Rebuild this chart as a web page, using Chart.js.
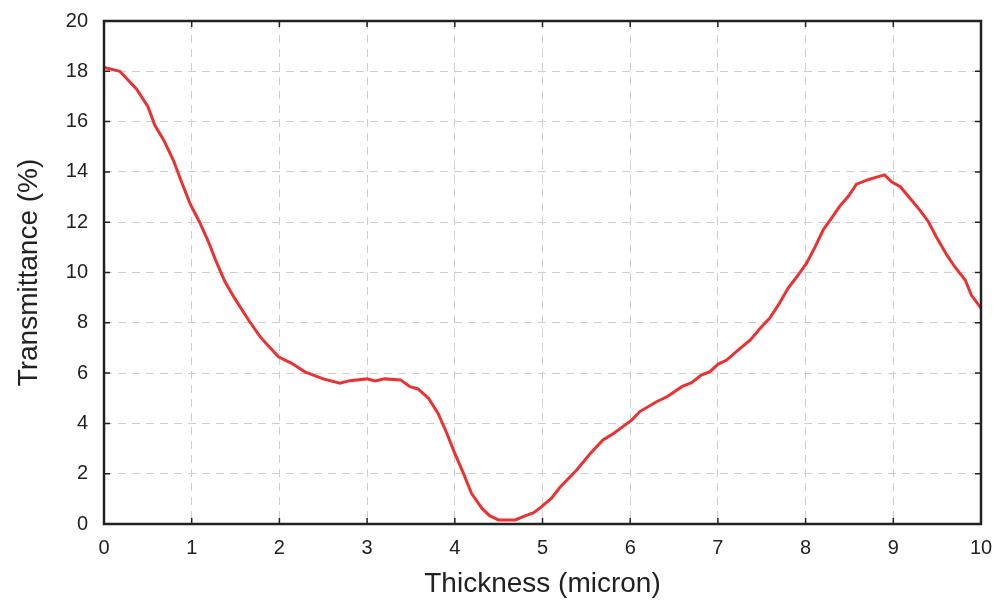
<!DOCTYPE html>
<html>
<head>
<meta charset="utf-8">
<script src="https://cdn.jsdelivr.net/npm/chart.js@4/dist/chart.umd.min.js"></script>
<style>
  html, body { margin: 0; padding: 0; background: #fff; }
  #wrap { width: 1000px; height: 601px; }
</style>
</head>
<body>
<div id="wrap"><canvas id="graphCanvas"></canvas></div>
<script>
// 読み取った値（膜厚 vs 透過率）
const thickness = [
  0, 0.18, 0.37, 0.5, 0.58, 0.68, 0.79, 0.89, 0.98, 1.09, 1.19, 1.28, 1.38, 1.49,
  1.65, 1.78, 1.87, 1.99, 2.14, 2.29, 2.5, 2.69, 2.8, 3.0, 3.09, 3.2, 3.38, 3.49,
  3.58, 3.7, 3.81, 3.91, 4.0, 4.1, 4.19, 4.31, 4.4, 4.5, 4.69, 4.78, 4.9, 4.99,
  5.1, 5.2, 5.39, 5.54, 5.69, 5.81, 6.02, 6.11, 6.3, 6.42, 6.59, 6.7, 6.81, 6.91,
  7.0, 7.1, 7.21, 7.37, 7.5, 7.59, 7.69, 7.8, 7.9, 8.01, 8.11, 8.2, 8.3, 8.39,
  8.49, 8.58, 8.73, 8.83, 8.9, 8.98, 9.08, 9.19, 9.3, 9.4, 9.49, 9.61, 9.7, 9.82,
  9.89, 10.0
];
const transmittance = [
  18.15, 18.0, 17.3, 16.6, 15.85, 15.27, 14.47, 13.55, 12.75, 12.0, 11.23, 10.43, 9.63, 8.97,
  8.1, 7.45, 7.1, 6.65, 6.39, 6.05, 5.77, 5.6, 5.7, 5.77, 5.69, 5.77, 5.73, 5.46,
  5.37, 5.0, 4.4, 3.6, 2.81, 2.0, 1.22, 0.62, 0.32, 0.16, 0.16, 0.29, 0.45, 0.69,
  1.02, 1.46, 2.15, 2.78, 3.34, 3.6, 4.14, 4.47, 4.86, 5.06, 5.46, 5.62, 5.92, 6.06,
  6.35, 6.52, 6.85, 7.32, 7.85, 8.18, 8.71, 9.37, 9.83, 10.36, 11.03, 11.69, 12.18, 12.64,
  13.04, 13.51, 13.71, 13.81, 13.88, 13.61, 13.41, 12.95, 12.49, 12.02, 11.42, 10.7, 10.23, 9.7,
  9.1, 8.58
];
const xTicks = [0, 1, 2, 3, 4, 5, 6, 7, 8, 9, 10];
const yTicks = [0, 2, 4, 6, 8, 10, 12, 14, 16, 18, 20];

const points = thickness.map((t, i) => ({ x: t, y: transmittance[i] }));

const FONT = "'Liberation Sans', Arial, sans-serif";

// 内向きの目盛りと枠線を描くプラグイン
const frameTicks = {
  id: "frameTicks",
  afterDatasetsDraw(chart) {
    const { ctx, chartArea: a, scales } = chart;
    const len = 6;
    ctx.save();
    ctx.strokeStyle = "#222";
    ctx.lineWidth = 1.5;
    ctx.beginPath();
    xTicks.forEach((v) => {
      const px = scales.x.getPixelForValue(v);
      ctx.moveTo(px, a.bottom); ctx.lineTo(px, a.bottom - len);
      ctx.moveTo(px, a.top); ctx.lineTo(px, a.top + len);
    });
    yTicks.forEach((v) => {
      const py = scales.y.getPixelForValue(v);
      ctx.moveTo(a.left, py); ctx.lineTo(a.left + len, py);
      ctx.moveTo(a.right, py); ctx.lineTo(a.right - len, py);
    });
    ctx.stroke();
    ctx.lineWidth = 2.5;
    ctx.strokeRect(a.left, a.top, a.right - a.left, a.bottom - a.top);
    ctx.restore();
  },
};

new Chart(document.getElementById("graphCanvas").getContext("2d"), {
  type: "scatter",
  data: {
    datasets: [
      {
        data: points,
        showLine: true,
        pointRadius: 0,
        borderColor: "rgb(235, 50, 50)",
        borderWidth: 3,
        tension: 0,
      },
    ],
  },
  options: {
    responsive: true,
    maintainAspectRatio: false,
    animation: false,
    layout: { padding: { left: 12, right: 19, top: 21, bottom: 0 } },
    plugins: { legend: { display: false }, tooltip: { enabled: false } },
    scales: {
      x: {
        type: "linear",
        min: 0,
        max: 10,
        afterFit: (s) => { s.height = 77; s.paddingLeft = 0; s.paddingRight = 0; },
        afterBuildTicks: (s) => { s.ticks = xTicks.map((v) => ({ value: v })); },
        border: { display: false, dash: [8, 6] },
        grid: { color: "#cfcfcf", lineWidth: 1, drawTicks: false },
        ticks: { color: "#222", font: { family: FONT, size: 20 }, padding: 12, maxRotation: 0 },
        title: {
          display: true,
          text: "Thickness (micron)",
          color: "#222",
          font: { family: FONT, size: 28 },
          padding: { top: 0, bottom: 0 },
        },
      },
      y: {
        min: 0,
        max: 20,
        afterFit: (s) => { s.width = 92; s.paddingTop = 0; s.paddingBottom = 0; },
        afterBuildTicks: (s) => { s.ticks = yTicks.map((v) => ({ value: v })); },
        border: { display: false, dash: [8, 6] },
        grid: { color: "#cfcfcf", lineWidth: 1, drawTicks: false },
        ticks: { color: "#222", font: { family: FONT, size: 20 }, padding: 16 },
        title: {
          display: true,
          text: "Transmittance (%)",
          color: "#222",
          font: { family: FONT, size: 28 },
          padding: { top: 0, bottom: 0 },
        },
      },
    },
  },
  plugins: [frameTicks],
});
</script>
</body>
</html>
